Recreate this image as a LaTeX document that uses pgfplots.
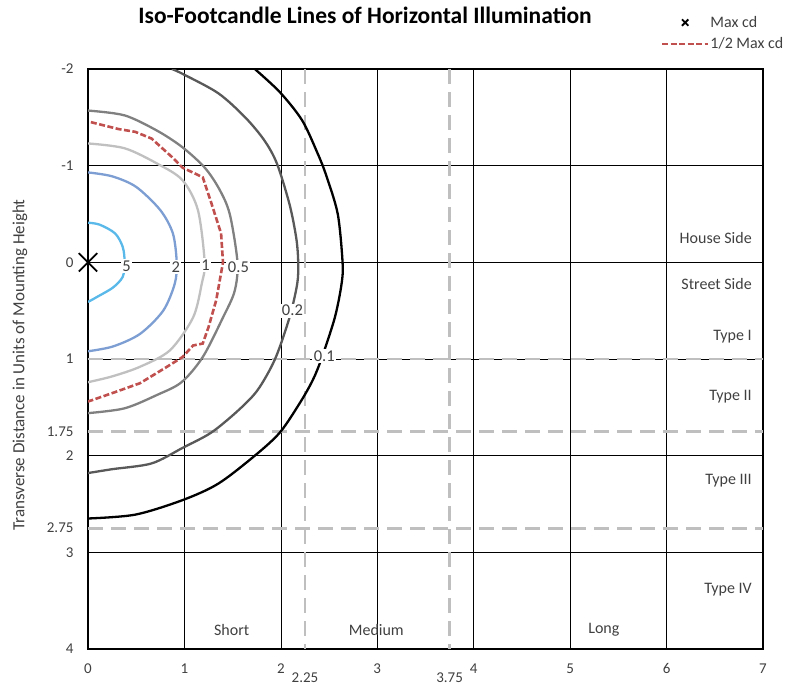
\documentclass[border=0pt]{standalone}
\usepackage{fontspec}
\setmainfont{Carlito}
\usepackage{pgfplots}
\pgfplotsset{compat=1.18}
\definecolor{cFive}{HTML}{5BB9EA}
\definecolor{cTwo}{HTML}{7C9ED2}
\definecolor{cOne}{HTML}{C0C0C0}
\definecolor{cHalf}{HTML}{808080}
\definecolor{cPtTwo}{HTML}{595959}
\definecolor{cRed}{HTML}{C0504D}
\definecolor{cDash}{HTML}{BFBFBF}
\definecolor{cTick}{HTML}{404040}
\begin{document}
\begin{tikzpicture}[x=1pt,y=1pt]
\path[use as bounding box] (0,0) rectangle (785,687);
\node[font=\fontsize{23.5}{28}\selectfont\bfseries] at (365,672) {Iso-Footcandle Lines of Horizontal Illumination};
\node[rotate=90,font=\fontsize{17}{20}\selectfont,text=cTick] at (20,322) {Transverse Distance in Units of Mounting Height};
\begin{axis}[
  at={(88pt,38pt)}, anchor=south west,
  scale only axis, width=675pt, height=580pt,
  xmin=0, xmax=7, ymin=-2, ymax=4, y dir=reverse,
  xtick={0,1,2,3,4,5,6,7}, ytick={-2,-1,0,1,2,3,4},
  extra x ticks={2.25,3.75}, extra y ticks={1.75,2.75},
  extra x tick style={grid=none, xticklabel style={yshift=-9pt}},
  extra y tick style={grid=none},
  grid=major, major grid style={black, line width=0.6pt},
  major tick length=0pt,
  axis line style={black, line width=1.1pt},
  tick label style={font=\fontsize{15}{17}\selectfont, text=cTick},
  /pgf/number format/assume math mode=true,
  xticklabel style={yshift=-11pt},
  yticklabel style={xshift=-11pt},
  legend style={draw=none, fill=none, at={(axis description cs:1.032,1.093)}, anchor=north east,
     font=\fontsize{16}{18}\selectfont, text=cTick, row sep=7pt, inner sep=0pt,
     nodes={inner sep=1pt}},
  legend cell align=left,
  legend image code/.code={\draw[mark repeat=2,mark phase=2,#1] plot coordinates {(0pt,0pt) (23pt,0pt) (46pt,0pt)};},
]
% legend entries
\addlegendimage{only marks, mark=x, mark size=4.5pt, line width=1.8pt, black}
\addlegendentry{Max cd}
\addlegendimage{cRed, line width=2.6pt, dash pattern=on 6pt off 2.5pt}
\addlegendentry{1/2 Max cd}
% reference dashed lines
\addplot[cDash, line width=2.8pt, dash pattern=on 15pt off 8pt, forget plot] coordinates {(2.25,-2) (2.25,4)};
\addplot[cDash, line width=2.8pt, dash pattern=on 15pt off 8pt, forget plot] coordinates {(3.75,-2) (3.75,4)};
\addplot[cDash, line width=2.8pt, dash pattern=on 15pt off 8pt, forget plot] coordinates {(0,1) (7,1)};
\addplot[cDash, line width=2.8pt, dash pattern=on 15pt off 8pt, forget plot] coordinates {(0,1.75) (7,1.75)};
\addplot[cDash, line width=2.8pt, dash pattern=on 15pt off 8pt, forget plot] coordinates {(0,2.75) (7,2.75)};
% contours
\addplot[cFive, line width=2.3pt, smooth, forget plot] coordinates {(0,-0.41) (0.12,-0.39) (0.28,-0.30) (0.36,-0.16) (0.38,0) (0.36,0.15) (0.26,0.26) (0.09,0.36) (0,0.41)};
\addplot[cTwo, line width=2.3pt, smooth, forget plot] coordinates {(0,-0.93) (0.25,-0.89) (0.5,-0.78) (0.75,-0.54) (0.88,-0.30) (0.92,0) (0.9,0.22) (0.78,0.5) (0.54,0.74) (0.26,0.87) (0,0.92)};
\addplot[cOne, line width=2.3pt, smooth, forget plot] coordinates {(0,-1.23) (0.38,-1.18) (0.72,-1.02) (0.98,-0.85) (1.14,-0.54) (1.21,0) (1.18,0.22) (1.09,0.57) (0.85,0.91) (0.54,1.08) (0.25,1.18) (0,1.24)};
\addplot[cHalf, line width=2.3pt, smooth, forget plot] coordinates {(0,-1.57) (0.38,-1.52) (0.72,-1.36) (0.98,-1.19) (1.21,-0.98) (1.36,-0.76) (1.47,-0.50) (1.55,0) (1.52,0.3) (1.40,0.57) (1.19,0.98) (0.97,1.24) (0.72,1.37) (0.38,1.51) (0,1.56)};
\addplot[cPtTwo, line width=2.3pt, smooth, forget plot] coordinates {(0.87,-2) (0.98,-1.95) (1.35,-1.75) (1.63,-1.50) (1.83,-1.26) (1.96,-1.02) (2.09,-0.6) (2.16,-0.25) (2.18,0) (2.17,0.22) (2.09,0.57) (1.94,1.0) (1.76,1.32) (1.56,1.53) (1.28,1.76) (0.98,1.92) (0.66,2.08) (0.25,2.14) (0,2.18)};
\addplot[black, line width=2.3pt, smooth, forget plot] coordinates {(1.73,-2) (1.99,-1.76) (2.22,-1.47) (2.38,-1.13) (2.47,-0.90) (2.59,-0.50) (2.64,0) (2.63,0.22) (2.56,0.57) (2.42,1.0) (2.33,1.22) (2.20,1.45) (1.99,1.76) (1.73,2.0) (1.35,2.29) (0.98,2.46) (0.49,2.61) (0,2.65)};
\addplot[cRed, line width=2.6pt, dash pattern=on 6pt off 2.5pt, forget plot] coordinates {(0.03,-1.45) (0.31,-1.38) (0.49,-1.35) (0.66,-1.28) (0.87,-1.09) (0.98,-0.98) (1.19,-0.88) (1.28,-0.61) (1.38,-0.30) (1.40,0) (1.33,0.39) (1.25,0.67) (1.19,0.84) (1.09,0.86) (0.98,0.98) (0.82,1.08) (0.54,1.25) (0.26,1.35) (0,1.44)};
% max cd marker
\addplot[only marks, mark=x, mark size=13pt, line width=1.8pt, black, forget plot] coordinates {(0,0)};
% contour labels
\begin{scope}[every node/.style={fill=white, inner sep=1.5pt, font=\fontsize{16.5}{19}\selectfont, text=cTick}]
\node at (axis cs:0.40,0.04) {5};
\node at (axis cs:0.91,0.05) {2};
\node at (axis cs:1.22,0.03) {1};
\node at (axis cs:1.56,0.05) {0.5};
\node at (axis cs:2.12,0.50) {0.2};
\node at (axis cs:2.45,0.97) {0.1};
\end{scope}
% region labels
\begin{scope}[every node/.style={font=\fontsize{16}{19}\selectfont, text=cTick, anchor=east}]
\node at (axis cs:6.92,-0.25) {House Side};
\node at (axis cs:6.92,0.22) {Street Side};
\node at (axis cs:6.92,0.77) {Type I};
\node at (axis cs:6.92,1.39) {Type II};
\node at (axis cs:6.92,2.26) {Type III};
\node at (axis cs:6.92,3.39) {Type IV};
\end{scope}
\begin{scope}[every node/.style={font=\fontsize{16}{19}\selectfont, text=cTick}]
\node at (axis cs:1.49,3.80) {Short};
\node at (axis cs:2.99,3.80) {Medium};
\node at (axis cs:5.35,3.80) {Long};
\end{scope}
\end{axis}
\end{tikzpicture}
\end{document}
